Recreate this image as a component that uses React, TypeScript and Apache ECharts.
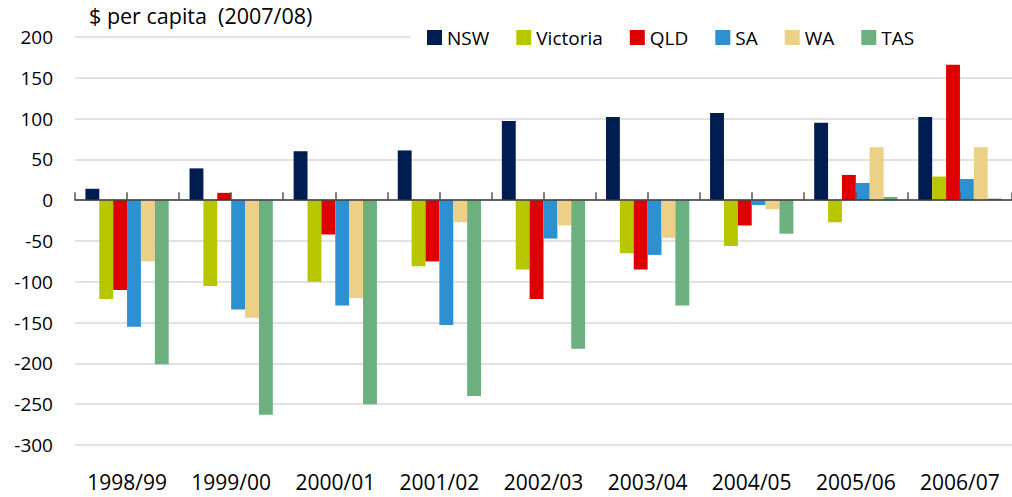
import React, { useEffect, useRef } from "react";
import * as echarts from "echarts";

const categories = ["1998/99", "1999/00", "2000/01", "2001/02", "2002/03", "2003/04", "2004/05", "2005/06", "2006/07"];
const nsw = [14, 39, 60, 61, 97, 102, 107, 95, 102];
const victoria = [-121, -105, -100, -81, -85, -65, -56, -27, 29];
const qld = [-110, 9, -42, -75, -121, -85, -31, 31, 166];
const sa = [-155, -134, -129, -153, -47, -67, -6, 21, 26];
const wa = [-75, -144, -120, -27, -31, -46, -11, 65, 65];
const tas = [-201, -263, -250, -240, -182, -129, -41, 4, 2];
const seriesNames = ["NSW", "Victoria", "QLD", "SA", "WA", "TAS"];
const seriesColors = ["#001d52", "#b8c600", "#de0000", "#2d90d0", "#edd088", "#6bb07e"];
const yMin = -300;
const yMax = 200;
const yStep = 50;
const unitLabel = "$ per capita  (2007/08)";

const FONT = "'Open Sans', 'DejaVu Sans', sans-serif";

export default function App() {
  const ref = useRef<HTMLDivElement>(null);
  useEffect(() => {
    document.body.style.margin = "0";
    const chart = echarts.init(ref.current!, null, { renderer: "svg" });
    const values = [nsw, victoria, qld, sa, wa, tas];
    const halfTicks = categories.flatMap(() => ["", ""]);
    chart.setOption({
      animation: false,
      backgroundColor: "#ffffff",
      textStyle: { fontFamily: FONT },
      title: {
        text: unitLabel,
        left: 89,
        top: 4,
        padding: 0,
        textStyle: { fontFamily: FONT, fontSize: 21.5, fontWeight: "normal", color: "#000" },
      },
      graphic: [
        {
          type: "rect",
          z: 3,
          silent: true,
          shape: { x: 410, y: 28, width: 610, height: 20 },
          style: { fill: "#ffffff" },
        },
      ],
      legend: {
        data: seriesNames,
        left: 427,
        top: 28,
        padding: 0,
        itemWidth: 15,
        itemHeight: 15,
        itemGap: 27,
        icon: "rect",
        textStyle: { fontFamily: FONT, fontSize: 19, color: "#000" },
      },
      grid: { left: 75, right: -8, top: 37, bottom: 52, containLabel: false },
      xAxis: [
        {
          type: "category",
          data: categories,
          position: "bottom",
          axisLine: { show: false, onZero: false },
          axisTick: { show: false },
          axisLabel: { fontFamily: FONT, fontSize: 21, color: "#000", margin: 26, interval: 0 },
          splitLine: { show: false },
        },
        {
          type: "category",
          data: halfTicks,
          position: "bottom",
          z: 10,
          axisLine: { show: true, onZero: true, lineStyle: { color: "#3a3a3a", width: 1.5 } },
          axisTick: { show: true, inside: true, length: 8, interval: 0, lineStyle: { color: "#555555", width: 1.5 } },
          axisLabel: { show: false },
          splitLine: { show: false },
        },
      ],
      yAxis: {
        type: "value",
        min: yMin,
        max: yMax,
        interval: yStep,
        axisLine: { show: false },
        axisTick: { show: false },
        axisLabel: { fontFamily: FONT, fontSize: 19, color: "#000", margin: 22 },
        splitLine: { lineStyle: { color: "#d9d9d9", width: 1.5 } },
      },
      series: seriesNames.map((name, i) => ({
        name,
        type: "bar",
        xAxisIndex: 0,
        data: values[i],
        barGap: "0%",
        barCategoryGap: "20%",
        itemStyle: { color: seriesColors[i] },
      })),
    });
    return () => chart.dispose();
  }, []);
  return <div ref={ref} style={{ position: "absolute", left: 0, top: 0, width: 1012, height: 497 }} />;
}
